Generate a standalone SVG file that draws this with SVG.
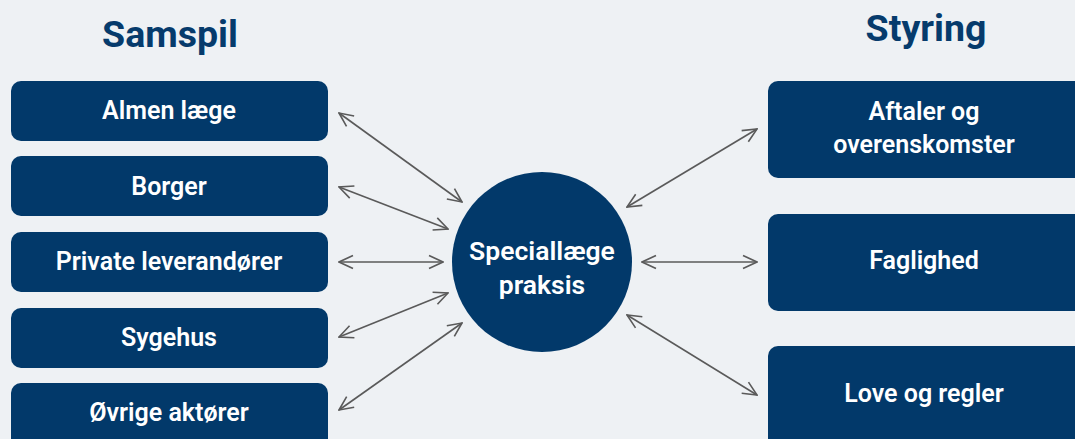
<svg xmlns="http://www.w3.org/2000/svg" width="1075" height="439" viewBox="0 0 1075 439">
<defs>
<style>
.bg{fill:#eef1f4}
.box{fill:#02396a}
.t{font-family:Roboto,"Liberation Sans",sans-serif;font-weight:600;fill:#ffffff;text-anchor:middle;font-size:25px}
.ct{font-size:26.5px}
.h{font-family:Roboto,"Liberation Sans",sans-serif;font-weight:700;fill:#063b6c;text-anchor:middle;font-size:37.5px}
.c{stroke:#5a5a5a;stroke-width:1.6;fill:none;marker-start:url(#ah);marker-end:url(#ah)}
</style>
<marker id="ah" viewBox="0 0 16 16" refX="15" refY="8" markerWidth="16" markerHeight="16" markerUnits="userSpaceOnUse" orient="auto-start-reverse">
<path d="M1,1.5 L15,8 L1,14.5" fill="none" stroke="#5a5a5a" stroke-width="1.6"/>
</marker>
</defs>
<rect class="bg" x="0" y="0" width="1075" height="439"/>
<text class="h" x="170" y="47">Samspil</text>
<text class="h" x="926" y="41">Styring</text>
<g id="almen"><rect class="box" x="11" y="81" width="317" height="60" rx="10"/><text class="t" x="169" y="119">Almen læge</text></g>
<g id="borger"><rect class="box" x="11" y="156" width="317" height="60" rx="10"/><text class="t" x="169" y="195">Borger</text></g>
<g id="private"><rect class="box" x="11" y="232" width="317" height="60" rx="10"/><text class="t" x="169" y="270">Private leverandører</text></g>
<g id="sygehus"><rect class="box" x="11" y="308" width="317" height="60" rx="10"/><text class="t" x="169" y="346">Sygehus</text></g>
<g id="ovrige"><rect class="box" x="11" y="383" width="317" height="66" rx="10"/><text class="t" x="169" y="421">Øvrige aktører</text></g>
<g id="center"><circle class="box" cx="542" cy="262" r="90"/><text class="t ct" x="542" y="260">Speciallæge</text><text class="t ct" x="542" y="294">praksis</text></g>
<g id="aftaler"><rect class="box" x="768" y="81" width="320" height="97" rx="10"/><text class="t" x="924" y="120">Aftaler og</text><text class="t" x="924" y="153">overenskomster</text></g>
<g id="faglighed"><rect class="box" x="768" y="214" width="320" height="97" rx="10"/><text class="t" x="924" y="269">Faglighed</text></g>
<g id="love"><rect class="box" x="768" y="346" width="320" height="110" rx="10"/><text class="t" x="924" y="402">Love og regler</text></g>
<g id="connectors">
<line class="c" x1="339" y1="113" x2="462" y2="202"/>
<line class="c" x1="339" y1="187" x2="448" y2="229"/>
<line class="c" x1="339" y1="262" x2="443" y2="262"/>
<line class="c" x1="339" y1="337" x2="448" y2="293"/>
<line class="c" x1="339" y1="410" x2="462" y2="323"/>
<line class="c" x1="627" y1="207" x2="757" y2="129"/>
<line class="c" x1="642" y1="262" x2="757" y2="262"/>
<line class="c" x1="627" y1="315" x2="757" y2="395"/>
</g>
</svg>
